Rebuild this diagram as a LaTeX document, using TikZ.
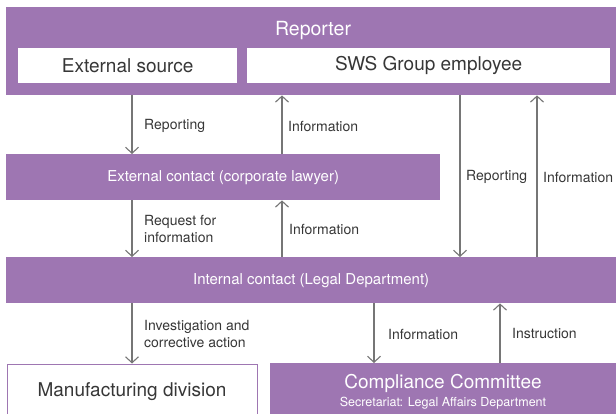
\documentclass[tikz,border=0pt]{standalone}
\usepackage{fontspec}
\setmainfont{TeX Gyre Heros}
\usetikzlibrary{arrows.meta}
\definecolor{swspurple}{RGB}{158,118,178}
\definecolor{flowgrey}{RGB}{118,118,118}
\definecolor{labelgrey}{RGB}{55,55,55}
\tikzset{
  purplebox/.style={fill=swspurple, draw=none, inner sep=0pt, anchor=north west, text=white},
  whitebox/.style={fill=white, draw=none, inner sep=0pt, anchor=north west, text=labelgrey,
    font=\fontsize{19}{21}\selectfont},
  flow/.style={draw=flowgrey, line width=1.1pt,
    -{Straight Barb[length=6pt,width=13pt,line width=1.1pt]}},
  flowlabel/.style={anchor=west, text=labelgrey, inner sep=0pt, align=left,
    font=\fontsize{14}{17}\selectfont},
}
\begin{document}
\begin{tikzpicture}[x=1pt,y=-1pt]
  \useasboundingbox[fill=white] (0,0) rectangle (616,414);
  % boxes
  \node[purplebox, minimum width=610pt, minimum height=88pt] (rep) at (6,7) {};
  \node[text=white, font=\fontsize{19.5}{21}\selectfont] (reptxt) at (313,31) {Reporter};
  \node[whitebox, minimum width=219pt, minimum height=35pt] (ext) at (18,48) {External source};
  \node[whitebox, minimum width=363pt, minimum height=35pt] (emp) at (247,48) {SWS Group employee};
  \node[purplebox, minimum width=434pt, minimum height=46pt,
    font=\fontsize{15}{17}\selectfont] (extc) at (6,154) {External contact (corporate lawyer)};
  \node[purplebox, minimum width=610pt, minimum height=46pt,
    font=\fontsize{15}{17}\selectfont] (intc) at (6,257) {Internal contact (Legal Department)};
  \node[whitebox, draw=swspurple, line width=1pt, minimum width=250pt, minimum height=56pt]
    (mfg) at (6.5,363.5) {Manufacturing division};
  \node[purplebox, minimum width=346pt, minimum height=56pt] (comp) at (270,363) {};
  \node[text=white, font=\fontsize{19}{21}\selectfont] (comptxt) at (443,383) {Compliance Committee};
  \node[text=white, font=\fontsize{12.5}{14}\selectfont] (secr) at (443,403) {Secretariat: Legal Affairs Department};
  % arrow columns
  \coordinate (c1) at (132,0);
  \coordinate (c2) at (282,0);
  \coordinate (c3) at (460,0);
  \coordinate (c4) at (537,0);
  \coordinate (c5) at (374,0);
  \coordinate (c6) at (500,0);
  \draw[flow] (rep.south -| c1) -- (extc.north -| c1);
  \draw[flow] (extc.north -| c2) -- (rep.south -| c2);
  \draw[flow] (rep.south -| c3) -- (intc.north -| c3);
  \draw[flow] (intc.north -| c4) -- (rep.south -| c4);
  \draw[flow] (extc.south -| c1) -- (intc.north -| c1);
  \draw[flow] (intc.north -| c2) -- (extc.south -| c2);
  \draw[flow] (intc.south -| c1) -- (mfg.north -| c1);
  \draw[flow] (intc.south -| c5) -- (comp.north -| c5);
  \draw[flow] (comp.north -| c6) -- (intc.south -| c6);
  % labels
  \node[flowlabel] (l1) at (144,126) {Reporting};
  \node[flowlabel] (l2) at (288,126) {Information};
  \node[flowlabel] (l3) at (466,177) {Reporting};
  \node[flowlabel] (l4) at (543,177) {Information};
  \node[flowlabel] (l5) at (144,229) {Request for\\information};
  \node[flowlabel] (l6) at (289,229) {Information};
  \node[flowlabel] (l7) at (144,334) {Investigation and\\corrective action};
  \node[flowlabel] (l8) at (388,334) {Information};
  \node[flowlabel] (l9) at (512,334) {Instruction};
\end{tikzpicture}
\end{document}
